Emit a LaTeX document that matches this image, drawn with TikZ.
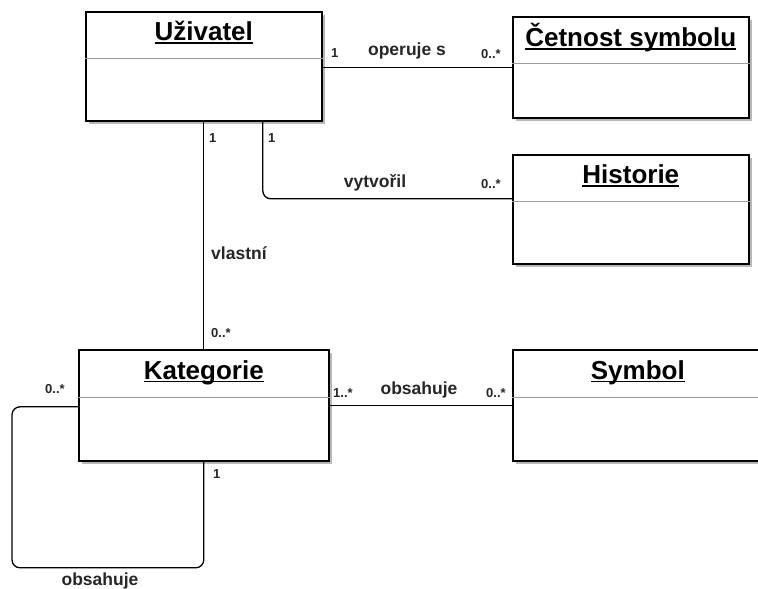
\documentclass[tikz,border=0pt]{standalone}
\usepackage{fontspec}
\setmainfont{Liberation Sans}
\usetikzlibrary{shadows,calc}

% underline set just below the baseline, crossing descenders
\newsavebox\ulbox
\newcommand\ulname[1]{\sbox\ulbox{#1}\rlap{\vrule height -1.5pt depth 3.4pt width \wd\ulbox}\usebox\ulbox}
\newcommand\titlefont{\fontsize{26}{30}\selectfont\bfseries}
\newcommand\lblfont{\fontsize{17.5}{20}\selectfont\bfseries}
\newcommand\multfont{\fontsize{13}{15}\selectfont\bfseries}

\definecolor{divider}{gray}{0.62}
\definecolor{ink}{gray}{0.15}

\tikzset{
  cls/.style={draw=black, line width=1.6pt, fill=white, anchor=north west,
    inner sep=0pt, minimum width=#1,
    drop shadow={shadow xshift=3.5pt, shadow yshift=-3.5pt, fill=black!28, opacity=1}},
  cls/.default=236pt,
  clstitle/.style={font=\titlefont, text=black, anchor=base, inner sep=0pt},
  sep/.style={draw=divider, line width=1pt},
  assoc/.style={draw=black, line width=1.3pt, rounded corners=8pt},
  mult/.style={font=\multfont, text=ink, anchor=base west, inner sep=0pt},
  lbl/.style={font=\lblfont, text=ink, anchor=base, inner sep=0pt},
}

\begin{document}
\begin{tikzpicture}[x=1pt, y=-1pt]
\useasboundingbox (0,0) rectangle (758,589);

% classes
\node[cls, minimum height=109pt] (uz) at (85,11) {};
\node[cls, minimum height=101pt] (cet) at (512,16) {};
\node[cls, minimum height=109pt] (hist) at (512,154) {};
\node[cls=250pt, minimum height=111pt] (kat) at (78,349) {};
\node[cls=250pt, minimum height=111pt] (sym) at (512,349) {};

% compartment dividers
\draw[sep] ([yshift=-47pt]uz.north west) -- ([yshift=-47pt]uz.north east);
\draw[sep] ([yshift=-47pt]cet.north west) -- ([yshift=-47pt]cet.north east);
\draw[sep] ([yshift=-47pt]hist.north west) -- ([yshift=-47pt]hist.north east);
\draw[sep] ([yshift=-48pt]kat.north west) -- ([yshift=-48pt]kat.north east);
\draw[sep] ([yshift=-48pt]sym.north west) -- ([yshift=-48pt]sym.north east);

% class names
\node[clstitle] (uzname) at ([yshift=-29.5pt]uz.north) {\ulname{Uživatel}};
\node[clstitle] (cetname) at ([yshift=-30.5pt]cet.north) {\ulname{Četnost symbolu}};
\node[clstitle] (histname) at ([yshift=-29.5pt]hist.north) {\ulname{Historie}};
\node[clstitle] (katname) at ([yshift=-30pt]kat.north) {\ulname{Kategorie}};
\node[clstitle] (symname) at ([yshift=-30pt]sym.north) {\ulname{Symbol}};

% associations
\draw[assoc] ([yshift=-1pt]uz.east) -- ([yshift=-1pt]uz.east -| cet.west);
\draw[assoc] (uz.south) -- (kat.north);
\draw[assoc] ([xshift=59pt]uz.south) |- ([yshift=10.5pt]hist.west);
\draw[assoc] (kat.east) -- (sym.west);
\draw[assoc] ([yshift=-1.5pt]kat.west) -- ++(-66,0) -- ++(0,161) -| (kat.south);

% multiplicities and association names
\node[mult] (m1) at (331,57) {1};
\node[lbl] (l1) at (407,55) {operuje s};
\node[mult] (m2) at (481,58) {0..*};

\node[mult] (m3) at (209,142) {1};
\node[mult] (m4) at (268,142) {1};
\node[lbl] (l2) at (375,187) {vytvořil};
\node[mult] (m5) at (481,188) {0..*};

\node[lbl, anchor=base west] (l3) at (211,259) {vlastní};
\node[mult] (m6) at (211,337) {0..*};

\node[mult] (m7) at (333,397) {1..*};
\node[lbl] (l4) at (419,394) {obsahuje};
\node[mult] (m8) at (486,397) {0..*};

\node[mult] (m9) at (45,393) {0..*};
\node[mult] (m10) at (213,478) {1};
\node[lbl] (l5) at (100,585) {obsahuje};
\end{tikzpicture}
\end{document}
